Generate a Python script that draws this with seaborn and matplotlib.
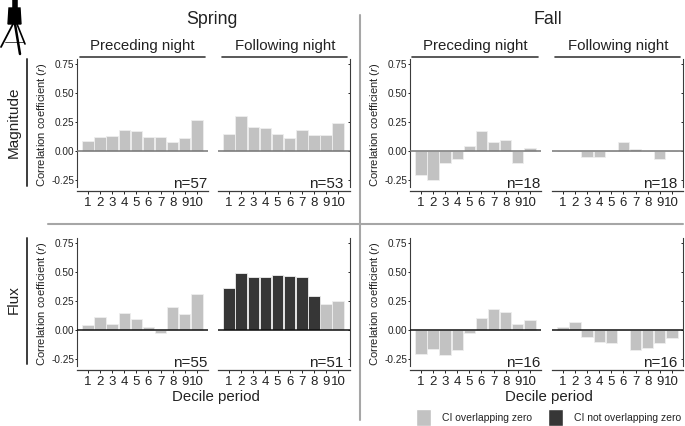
import pandas as pd
import matplotlib.pyplot as plt
from matplotlib.lines import Line2D
from matplotlib.patches import Patch, Polygon
import seaborn as sns

W, H = 685, 426

deciles = [str(i) for i in range(1, 11)]
y_ticks = [-0.25, 0.0, 0.25, 0.5, 0.75]

mag_spring_prec = [0.09, 0.12, 0.13, 0.18, 0.175, 0.12, 0.12, 0.08, 0.11, 0.265]
mag_spring_foll = [0.145, 0.30, 0.205, 0.195, 0.15, 0.11, 0.185, 0.14, 0.135, 0.245]
mag_fall_prec = [-0.205, -0.25, -0.105, -0.07, 0.04, 0.17, 0.08, 0.095, -0.105, 0.025]
mag_fall_foll = [0, 0, -0.05, -0.055, 0, 0.08, 0.015, 0, -0.07, 0]
flux_spring_prec = [0.045, 0.11, 0.055, 0.145, 0.095, 0.03, -0.025, 0.20, 0.135, 0.31]
flux_spring_foll = [0.365, 0.495, 0.46, 0.455, 0.475, 0.465, 0.46, 0.295, 0.225, 0.255]
flux_fall_prec = [-0.205, -0.165, -0.22, -0.17, -0.03, 0.10, 0.185, 0.16, 0.05, 0.085]
flux_fall_foll = [0.03, 0.07, -0.06, -0.10, -0.11, 0, -0.175, -0.16, -0.11, -0.07]

# True where the CI does not overlap zero
not_overlap_none = [False] * 10
not_overlap_flux_spring_foll = [True] * 8 + [False] * 2

LIGHT = "#c2c2c2"
DARK = "#363636"
LINE = "#3c3c3c"
DIVIDER = "#a6a6a6"
palette = {False: LIGHT, True: DARK}

sns.set_theme(style="white")
plt.rcParams["font.family"] = ["Liberation Sans", "DejaVu Sans"]
plt.rcParams["mathtext.fontset"] = "custom"
plt.rcParams["mathtext.it"] = "Liberation Sans:italic"
plt.rcParams["mathtext.rm"] = "Liberation Sans"

fig = plt.figure(figsize=(W / 100, H / 100), dpi=100)


def fx(px):
    return px / W


def fy(px):
    return 1 - px / H


def fig_line(x0, y0, x1, y1, color=LINE, lw=1.2):
    fig.add_artist(Line2D([fx(x0), fx(x1)], [fy(y0), fy(y1)], color=color, lw=lw))


def panel(values, not_overlap, n, left, right, top, bottom, zero_px, first, zero_color):
    ax = fig.add_axes([fx(left), fy(bottom), fx(right - left), (bottom - top) / H])
    df = pd.DataFrame({"decile": deciles, "r": values, "sig": not_overlap})
    sns.barplot(
        data=df, x="decile", y="r", hue="sig", palette=palette, hue_order=[False, True],
        dodge=False, width=0.95, legend=False, edgecolor="#eeeeee", linewidth=0.6, ax=ax,
    )
    scale = 115.5
    ax.set_xlim(-0.91, 9.93)
    ax.set_ylim((zero_px - bottom) / scale, (zero_px - top) / scale)
    ax.axhline(0, color=zero_color, lw=1.1, zorder=5)
    ax.set_yticks(y_ticks)
    ax.set_xlabel("")
    sns.despine(ax=ax, top=True, left=not first, right=first, bottom=False)
    ax.spines["bottom"].set_color(LINE)
    ax.spines["bottom"].set_linewidth(0.9)
    ax.tick_params(axis="x", labelsize=9.5, length=2, width=0.7, pad=2.5, colors="#222222", bottom=True)
    if first:
        ax.spines["left"].set_bounds(-0.31, ax.get_ylim()[1])
        ax.spines["left"].set_color(LINE)
        ax.spines["left"].set_linewidth(0.8)
        ax.set_yticks(y_ticks, ["-0.25", "0.00", "0.25", "0.50", "0.75"])
        ax.tick_params(axis="y", labelsize=7.2, length=1.5, width=0.7, pad=0.5, colors="#222222", left=True)
        ax.set_ylabel("Correlation coefficient ($\\mathit{r}$)", fontsize=8.1, color="#222222")
        ax.yaxis.set_label_coords(-0.215, 0.5)
    else:
        ax.spines["right"].set_visible(True)
        ax.spines["right"].set_bounds(-0.31, ax.get_ylim()[1])
        ax.spines["right"].set_color(LINE)
        ax.spines["right"].set_linewidth(0.8)
        ax.yaxis.tick_right()
        ax.tick_params(axis="y", labelright=False, labelleft=False, right=True, left=False,
                       direction="in", length=1.5, width=0.7)
        ax.set_ylabel("")
    label_x = 0.995 if first else 0.955
    ax.text(label_x, 0.025, f"n={n}", transform=ax.transAxes, ha="right", va="baseline",
            fontsize=11, color="#222222", zorder=6)
    ax.patch.set_alpha(0)
    return ax


top_row = dict(top=59, bottom=191, zero_px=151, zero_color="#767676")
low_row = dict(top=238, bottom=370, zero_px=330, zero_color="#111111")

panel(mag_spring_prec, not_overlap_none, 57, 77, 208, first=True, **top_row)
panel(mag_spring_foll, not_overlap_none, 53, 218, 349.5, first=False, **top_row)
panel(mag_fall_prec, not_overlap_none, 18, 410, 541, first=True, **top_row)
panel(mag_fall_foll, not_overlap_none, 18, 552, 683, first=False, **top_row)
panel(flux_spring_prec, not_overlap_none, 55, 77, 208, first=True, **low_row)
panel(flux_spring_foll, not_overlap_flux_spring_foll, 51, 218, 349.5, first=False, **low_row)
panel(flux_fall_prec, not_overlap_none, 16, 410, 541, first=True, **low_row)
panel(flux_fall_foll, not_overlap_none, 16, 552, 683, first=False, **low_row)

# headers
fig.text(fx(212), fy(20), "Spring", fontsize=12.8, ha="center", va="center", color="#222222")
fig.text(fx(548), fy(19), "Fall", fontsize=12.8, ha="center", va="center", color="#222222")
for cx, x0, x1 in [(142, 80, 205), (285, 222, 347), (475, 412, 538), (618, 555, 680)]:
    fig.text(fx(cx), fy(46), "Preceding night" if cx in (142, 475) else "Following night",
             fontsize=10.8, ha="center", va="center", color="#222222")
    fig_line(x0, 57, x1, 57)

# row labels
fig.text(fx(13.5), fy(122), "Magnitude", fontsize=11, rotation=90, ha="center", va="center", color="#222222")
fig.text(fx(13.5), fy(300), "Flux", fontsize=11, rotation=90, ha="center", va="center", color="#222222")
fig_line(27, 59, 27, 186, lw=1.4)
fig_line(27, 238, 27, 364, lw=1.4)

# dividers
fig_line(360, 15, 360, 420, color=DIVIDER, lw=1.5)
fig_line(48, 224, 683, 224, color=DIVIDER, lw=1.5)

# axis labels
fig.text(fx(216), fy(397), "Decile period", fontsize=10.8, ha="center", va="center", color="#222222")
fig.text(fx(549), fy(397), "Decile period", fontsize=10.8, ha="center", va="center", color="#222222")

# legend
handles = [Patch(facecolor=LIGHT, label="CI overlapping zero"),
           Patch(facecolor=DARK, label="CI not overlapping zero")]
fig.legend(handles=handles, loc="lower left", bbox_to_anchor=(fx(415.5), fy(426)), ncol=2, frameon=False,
           fontsize=7.5, handlelength=1.45, handleheight=2.16, handletextpad=1.05, columnspacing=1.55,
           borderpad=0, borderaxespad=0, labelcolor="#222222")

# camera on a tripod
fig_line(15, 0, 15, 8, color="black", lw=4)
fig.add_artist(Polygon([(fx(9), fy(8)), (fx(20), fy(8)), (fx(21), fy(24)), (fx(8), fy(24))],
                       closed=True, color="black", transform=fig.transFigure))
fig_line(13, 24, 1, 47, color="black", lw=1.3)
fig_line(15, 24, 20, 54, color="black", lw=1.8)
fig_line(17, 24, 25, 44, color="black", lw=1.2)
fig_line(5, 42, 24, 42, color="black", lw=0.5)

fig.savefig("out.png", dpi=100)
